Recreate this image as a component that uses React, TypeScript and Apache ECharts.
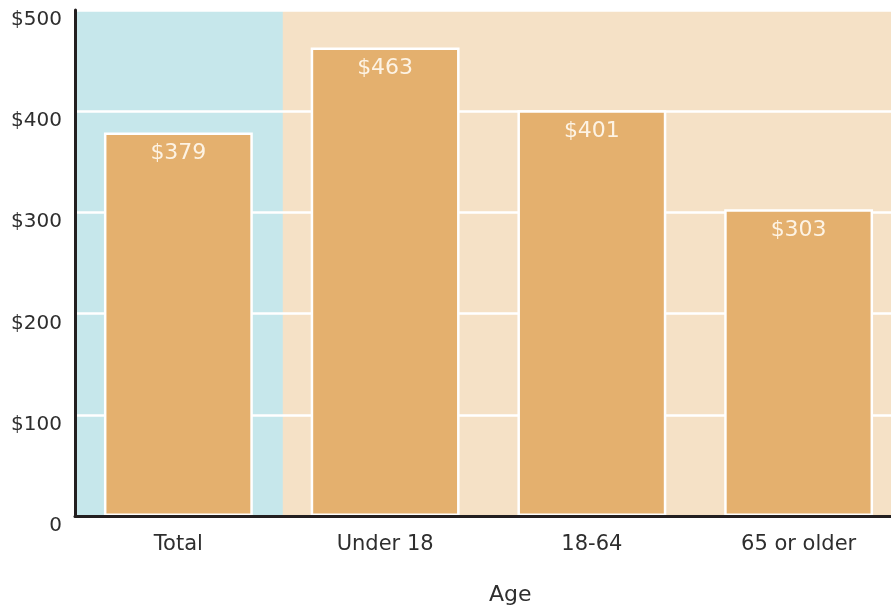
import React, { useEffect, useRef } from "react";
import * as echarts from "echarts";

const categories = ["Total", "Under 18", "18-64", "65 or older"];
const values = [379, 463, 401, 303];
const highlightPanel = [500, null, null, null];
const panelColor = "#c6e7eb";
const plotBackground = "#f5e1c6";
const yTicks = { min: 0, max: 500, interval: 100 };
const xAxisTitle = "Age";

export default function App() {
  const ref = useRef<HTMLDivElement>(null);
  useEffect(() => {
    if (!ref.current) return;
    const chart = echarts.init(ref.current, null, { renderer: "svg" });
    const axisText = { color: "#2e2e2e", fontFamily: "DejaVu Sans", fontSize: 20 };
    chart.setOption({
      animation: false,
      title: {
        text: xAxisTitle,
        left: 489,
        top: 582,
        textStyle: { ...axisText, fontSize: 22, fontWeight: "normal" },
        padding: 0,
      },
      grid: {
        left: 75,
        top: 10,
        width: 827,
        height: 506,
        outerBoundsMode: "none",
        show: true,
        backgroundColor: plotBackground,
        borderWidth: 0,
      },
      xAxis: [
        {
          type: "category",
          data: categories,
          z: 3,
          axisLine: { show: true, lineStyle: { color: "#231f20", width: 3 } },
          axisTick: { show: false },
          axisLabel: { ...axisText, fontSize: 21, margin: 16 },
          splitLine: { show: false },
        },
        {
          type: "category",
          data: categories,
          show: false,
        },
      ],
      yAxis: {
        type: "value",
        min: yTicks.min,
        max: yTicks.max,
        interval: yTicks.interval,
        z: 1,
        axisLine: { show: true, lineStyle: { color: "#231f20", width: 3 } },
        axisTick: { show: false },
        axisLabel: {
          ...axisText,
          margin: 13,
          verticalAlign: "top",
          lineHeight: 16,
          formatter: (v: number) => (v === 0 ? "0" : "$" + v),
        },
        splitLine: { show: true, lineStyle: { color: "#ffffff", width: 2.5 } },
      },
      series: [
        {
          type: "bar",
          xAxisIndex: 1,
          z: 0,
          silent: true,
          barWidth: "101%",
          data: highlightPanel.map((v) => (v === null ? "-" : v)),
          itemStyle: { color: panelColor },
          label: { show: false },
        },
        {
          type: "bar",
          xAxisIndex: 0,
          z: 2,
          barWidth: "72%",
          data: values,
          itemStyle: { color: "#e4b06e", borderColor: "#ffffff", borderWidth: 2.5 },
          label: {
            show: true,
            position: "insideTop",
            distance: 8,
            color: "#fdf3e4",
            fontFamily: "DejaVu Sans",
            fontSize: 22,
            formatter: (p: any) => "$" + p.value,
          },
        },
      ],
    });
    return () => chart.dispose();
  }, []);
  return (
    <div
      ref={ref}
      style={{ position: "fixed", left: 0, top: 0, width: 891, height: 606, overflow: "hidden" }}
    />
  );
}
